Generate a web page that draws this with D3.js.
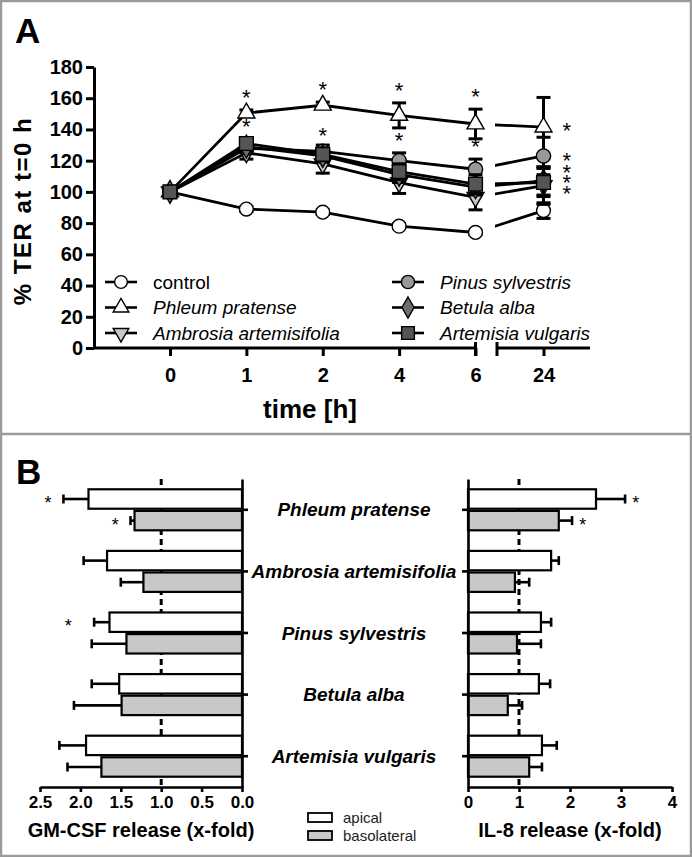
<!DOCTYPE html>
<html><head><meta charset="utf-8">
<script src="https://cdn.jsdelivr.net/npm/d3@7"></script>
<style>body{margin:0;background:#fff} svg{display:block;font-family:Arial,"Liberation Sans",sans-serif}</style>
</head><body><svg id="c" width="692" height="857"></svg>
<script>
// ---------- Panel A data ----------
const timeLabels = ["0","1","2","4","6","24"];
const seriesNames = ["control","Phleum pratense","Ambrosia artemisifolia","Pinus sylvestris","Betula alba","Artemisia vulgaris"];
const controlVals   = [100, 89, 87, 78, 74, 88];
const controlErr    = [0, 1.5, 1.5, 1.5, 1.5, 5];
const phleumVals    = [100, 150.5, 155.5, 149, 143.5, 141.5];
const phleumErr     = [0, 2, 2, 8, 9.5, 19];
const ambrosiaVals  = [100, 125, 118, 106, 96.5, 104];
const ambrosiaErr   = [0, 4, 6, 7, 8, 12];
const pinusVals     = [100, 128, 126, 120, 114.5, 123];
const pinusErr      = [0, 3, 4, 5, 6.5, 12];
const betulaVals    = [100, 129, 123, 111, 103, 107];
const betulaErr     = [0, 3, 4, 5, 5, 9];
const artemisiaVals = [100, 131, 124, 113, 105, 106];
const artemisiaErr  = [0, 3, 4, 5, 6, 9];
const yTicksA = [0,20,40,60,80,100,120,140,160,180];
// significance stars: [time, series index]
const starsA = [["1",1],["1",5],["2",1],["2",5],["4",1],["4",3],["6",1],["6",3]];
const stars24 = [142, 123, 115, 109, 102];

// ---------- Panel B data ----------
const allergens = ["Phleum pratense","Ambrosia artemisifolia","Pinus sylvestris","Betula alba","Artemisia vulgaris"];
const groups = ["apical","basolateral"];
const gmApical    = [1.90, 1.67, 1.64, 1.52, 1.93];
const gmApicalErr = [0.31, 0.29, 0.19, 0.34, 0.33];
const gmBaso      = [1.33, 1.22, 1.43, 1.49, 1.74];
const gmBasoErr   = [0.05, 0.28, 0.43, 0.59, 0.42];
const ilApical    = [2.51, 1.63, 1.43, 1.39, 1.45];
const ilApicalErr = [0.57, 0.15, 0.20, 0.22, 0.29];
const ilBaso      = [1.78, 0.92, 0.96, 0.78, 1.20];
const ilBasoErr   = [0.26, 0.28, 0.47, 0.28, 0.25];
const gmTicks = [2.5, 2.0, 1.5, 1.0, 0.5, 0.0];
const ilTicks = [0, 1, 2, 3, 4];
const gmStars = [["Phleum pratense","apical",2.40],["Phleum pratense","basolateral",1.57],["Pinus sylvestris","apical",2.15]];
const ilStars = [["Phleum pratense","apical",3.29],["Phleum pratense","basolateral",2.25]];

const svg = d3.select("#c");
const GRID = "#9a9a9a";
const FONT = "Arial,'Liberation Sans',sans-serif";

// frame
svg.append("rect").attr("x",1).attr("y",1).attr("width",690).attr("height",855)
  .attr("fill","none").attr("stroke",GRID).attr("stroke-width",2.5);
svg.append("line").attr("x1",0).attr("x2",692).attr("y1",434).attr("y2",434)
  .attr("stroke",GRID).attr("stroke-width",2.5);

// ================= Panel A =================
const A = svg.append("g");
A.append("text").attr("x",15).attr("y",43).attr("font-size",35).attr("font-weight","bold").text("A");

const yA = d3.scaleLinear().domain([0,180]).range([348,67]);
const xSeg1 = d3.scalePoint().domain(timeLabels.slice(0,5)).range([170,475.5]);
const xSeg2 = d3.scalePoint().domain(timeLabels.slice(5)).range([497,590]);
const xA = t => t === "24" ? xSeg2(t) : xSeg1(t);
const axisX0 = 94;

// y axis
const yAx = A.append("g").attr("transform",`translate(${axisX0},0)`)
  .call(d3.axisLeft(yA).tickValues(yTicksA).tickSize(8).tickSizeOuter(0));
yAx.select(".domain").attr("stroke-width",3);
yAx.selectAll(".tick line").attr("stroke-width",3);
yAx.selectAll(".tick text").attr("font-size",20).attr("font-weight","bold").attr("font-family",FONT).attr("x",-11);

// x axis segments
const xAx1 = A.append("g").attr("transform",`translate(0,${yA(0)})`)
  .call(d3.axisBottom(xSeg1).tickSize(8).tickSizeOuter(0));
xAx1.select(".domain").remove();
A.append("line").attr("x1",axisX0).attr("x2",xSeg1.range()[1]).attr("y1",yA(0)).attr("y2",yA(0))
  .attr("stroke","#000").attr("stroke-width",3);
const xAx2 = A.append("g").attr("transform",`translate(0,${yA(0)})`)
  .call(d3.axisBottom(xSeg2).tickSize(8).tickSizeOuter(0));
xAx2.select(".domain").remove();
A.append("line").attr("x1",xSeg2.range()[0]).attr("x2",xSeg2.range()[1]).attr("y1",yA(0)).attr("y2",yA(0))
  .attr("stroke","#000").attr("stroke-width",3);
[xSeg1.range()[1], xSeg2.range()[0]].forEach(x=>{
  A.append("line").attr("x1",x).attr("x2",x).attr("y1",yA(0)-6).attr("y2",yA(0)+8)
   .attr("stroke","#000").attr("stroke-width",3);
});
[xAx1,xAx2].forEach(g=>{
  g.selectAll(".tick line").attr("stroke-width",3);
  g.selectAll(".tick text").attr("font-size",20).attr("font-weight","bold").attr("font-family",FONT).attr("y",20);
});
A.append("text").attr("x",310).attr("y",418).attr("text-anchor","middle")
  .attr("font-size",26).attr("font-weight","bold").text("time [h]");
A.append("text").attr("transform","translate(31,211) rotate(-90)").attr("text-anchor","middle")
  .attr("font-size",24).attr("letter-spacing",1.5).attr("font-weight","bold").text("% TER at t=0 h");

// clip for the axis break
const defs = svg.append("defs");
const cp = defs.append("clipPath").attr("id","brk");
cp.append("rect").attr("x",axisX0).attr("y",0).attr("width",xSeg1.range()[1]+2-axisX0).attr("height",430);
cp.append("rect").attr("x",xSeg2.range()[0]-2).attr("y",0).attr("width",200).attr("height",430);

const triDown = {draw(ctx,size){ const s=Math.sqrt(size*4/Math.sqrt(3)); const h=s*Math.sqrt(3)/2;
  ctx.moveTo(-s/2,-h/3); ctx.lineTo(s/2,-h/3); ctx.lineTo(0,2*h/3); ctx.closePath(); }};
const triUp = {draw(ctx,size){ const s=Math.sqrt(size*4/Math.sqrt(3)); const h=s*Math.sqrt(3)/2;
  ctx.moveTo(-s/2,h/3); ctx.lineTo(s/2,h/3); ctx.lineTo(0,-2*h/3); ctx.closePath(); }};
const series = [
  {name:seriesNames[0], vals:controlVals, err:controlErr, sym:d3.symbolCircle, size:150, fill:"#ffffff"},
  {name:seriesNames[1], vals:phleumVals, err:phleumErr, sym:triUp, size:125, fill:"#ffffff"},
  {name:seriesNames[2], vals:ambrosiaVals, err:ambrosiaErr, sym:triDown, size:125, fill:"#c8c8c8"},
  {name:seriesNames[3], vals:pinusVals, err:pinusErr, sym:d3.symbolCircle, size:160, fill:"#999999"},
  {name:seriesNames[4], vals:betulaVals, err:betulaErr, sym:d3.symbolDiamond, size:150, fill:"#6e6e6e"},
  {name:seriesNames[5], vals:artemisiaVals, err:artemisiaErr, sym:d3.symbolSquare, size:190, fill:"#555555"}
];
const line = d3.line().x(d=>xA(d.t)).y(d=>yA(d.v));
series.forEach(s=>{
  const pts = timeLabels.map((t,i)=>({t, v:s.vals[i], e:s.err[i]}));
  const g = A.append("g");
  g.append("path").datum(pts).attr("d",line).attr("fill","none").attr("stroke","#000")
    .attr("stroke-width",2.8).attr("clip-path","url(#brk)");
  pts.filter(p=>p.e>0).forEach(p=>{
    const x=xA(p.t);
    g.append("line").attr("x1",x).attr("x2",x).attr("y1",yA(p.v+p.e)).attr("y2",yA(p.v-p.e)).attr("stroke","#000").attr("stroke-width",3);
    [p.v+p.e,p.v-p.e].forEach(v=>g.append("line").attr("x1",x-7).attr("x2",x+7).attr("y1",yA(v)).attr("y2",yA(v)).attr("stroke","#000").attr("stroke-width",3));
  });
  g.selectAll("path.m").data(pts).join("path").attr("class","m")
    .attr("transform",p=>`translate(${xA(p.t)},${yA(p.v)})`)
    .attr("d",d3.symbol().type(s.sym).size(s.size))
    .attr("fill",s.fill).attr("stroke","#000").attr("stroke-width",1.4);
});
// stars
starsA.forEach(([t,si])=>{
  const s = series[si]; const i = timeLabels.indexOf(t);
  A.append("text").attr("x",xA(t)).attr("y",yA(s.vals[i]+s.err[i])-5).attr("text-anchor","middle")
   .attr("font-size",22).text("*");
});
// stacked stars at 24 h: one text element, per-glyph positions
A.append("text").attr("font-size",22)
  .attr("x", stars24.map(()=>xSeg2("24")+19).join(" "))
  .attr("y", stars24.map(v=>yA(v)+12).join(" "))
  .text(stars24.map(()=>"*").join(""));

// legend A
series.forEach((s,i)=>{
  const col = Math.floor(i/3), row = i%3;
  const cx = col===0 ? 121 : 408, cy = 282 + row*25.5;
  const g = A.append("g").attr("transform",`translate(${cx},${cy})`);
  g.append("line").attr("x1",-16).attr("x2",16).attr("stroke","#000").attr("stroke-width",2.6);
  g.append("path").attr("d",d3.symbol().type(s.sym).size(s.size*0.85)).attr("fill",s.fill).attr("stroke","#000").attr("stroke-width",1.4);
  g.append("text").attr("x",32).attr("dy","0.35em").attr("font-size",19)
    .attr("font-style", i===0 ? "normal":"italic").text(s.name);
});

// ================= Panel B =================
const B = svg.append("g");
B.append("text").attr("x",16).attr("y",484).attr("font-size",35).attr("font-weight","bold").text("B");

const yB = d3.scaleBand().domain(allergens).range([479,787]).paddingInner(0.334).paddingOuter(0.167);
const sub = d3.scaleBand().domain(groups).range([0,yB.bandwidth()]).paddingInner(0.1);
const xL = d3.scaleLinear().domain([0,2.5]).range([242,40]);
const xR = d3.scaleLinear().domain([0,4]).range([468,672]);
const axisY = 787;
const fills = {apical:"#ffffff", basolateral:"#c8c8c8"};

function panel(x, vals, errs, ticks, fmt, dir){
  const g = B.append("g");
  const data = [];
  allergens.forEach((a,i)=>{
    data.push({a, gr:"apical", v:vals[0][i], e:errs[0][i]});
    data.push({a, gr:"basolateral", v:vals[1][i], e:errs[1][i]});
  });
  g.append("line").attr("x1",x(1)).attr("x2",x(1)).attr("y1",479).attr("y2",axisY)
   .attr("stroke","#000").attr("stroke-width",3).attr("stroke-dasharray","6,4");
  data.forEach(d=>{
    const y0 = yB(d.a)+sub(d.gr), h = sub.bandwidth();
    const xa = Math.min(x(0),x(d.v)), w = Math.abs(x(d.v)-x(0));
    const xe = x(d.v+d.e);
    g.append("line").attr("x1",x(d.v)).attr("x2",xe).attr("y1",y0+h/2).attr("y2",y0+h/2).attr("stroke","#000").attr("stroke-width",2.6);
    g.append("line").attr("x1",xe).attr("x2",xe).attr("y1",y0+h/2-4.5).attr("y2",y0+h/2+4.5).attr("stroke","#000").attr("stroke-width",2.6);
    g.append("rect").attr("x",xa).attr("y",y0).attr("width",w).attr("height",h)
     .attr("fill",fills[d.gr]).attr("stroke","#000").attr("stroke-width",2.2);
  });
  const ya = g.append("g").attr("transform",`translate(${x(0)},0)`)
    .call((dir>0? d3.axisRight(yB):d3.axisLeft(yB)).tickSize(6).tickSizeOuter(0).tickFormat(""));
  ya.select(".domain").attr("stroke-width",2.6);
  ya.selectAll(".tick line").attr("stroke-width",2.6);
  const xa = g.append("g").attr("transform",`translate(0,${axisY})`)
    .call(d3.axisBottom(x).tickValues(ticks).tickFormat(d3.format(fmt)).tickSize(5).tickSizeOuter(0));
  xa.select(".domain").attr("stroke-width",2.6);
  xa.selectAll(".tick line").attr("stroke-width",2.6);
  xa.selectAll(".tick text").attr("font-size",17).attr("font-weight","bold").attr("font-family",FONT).attr("y",9);
  return g;
}
panel(xL,[gmApical,gmBaso],[gmApicalErr,gmBasoErr],gmTicks,".1f",1);
panel(xR,[ilApical,ilBaso],[ilApicalErr,ilBasoErr],ilTicks,"d",-1);

gmStars.forEach(([a,gr,v])=>B.append("text").attr("x",xL(v)).attr("y",yB(a)+sub(gr)+sub.bandwidth()/2+10)
  .attr("text-anchor","middle").attr("font-size",18).text("*"));
ilStars.forEach(([a,gr,v])=>B.append("text").attr("x",xR(v)).attr("y",yB(a)+sub(gr)+sub.bandwidth()/2+10)
  .attr("text-anchor","middle").attr("font-size",18).text("*"));

allergens.forEach(a=>B.append("text").attr("x",354).attr("y",yB(a)+yB.bandwidth()/2).attr("dy","0.35em")
  .attr("text-anchor","middle").attr("font-size",19).attr("font-weight","bold").attr("font-style","italic").text(a));

B.append("text").attr("x",141).attr("y",837).attr("text-anchor","middle").attr("font-size",20).attr("font-weight","bold").text("GM-CSF release (x-fold)");
B.append("text").attr("x",570).attr("y",837).attr("text-anchor","middle").attr("font-size",20).attr("font-weight","bold").text("IL-8 release (x-fold)");

groups.forEach((gr,i)=>{
  const y = 813 + i*18;
  B.append("rect").attr("x",308).attr("y",y).attr("width",24).attr("height",9).attr("fill",fills[gr]).attr("stroke","#000").attr("stroke-width",1.8);
  B.append("text").attr("x",343).attr("y",y+4.5).attr("dy","0.35em").attr("font-size",15).attr("fill","#222").text(gr);
});
</script></body></html>
